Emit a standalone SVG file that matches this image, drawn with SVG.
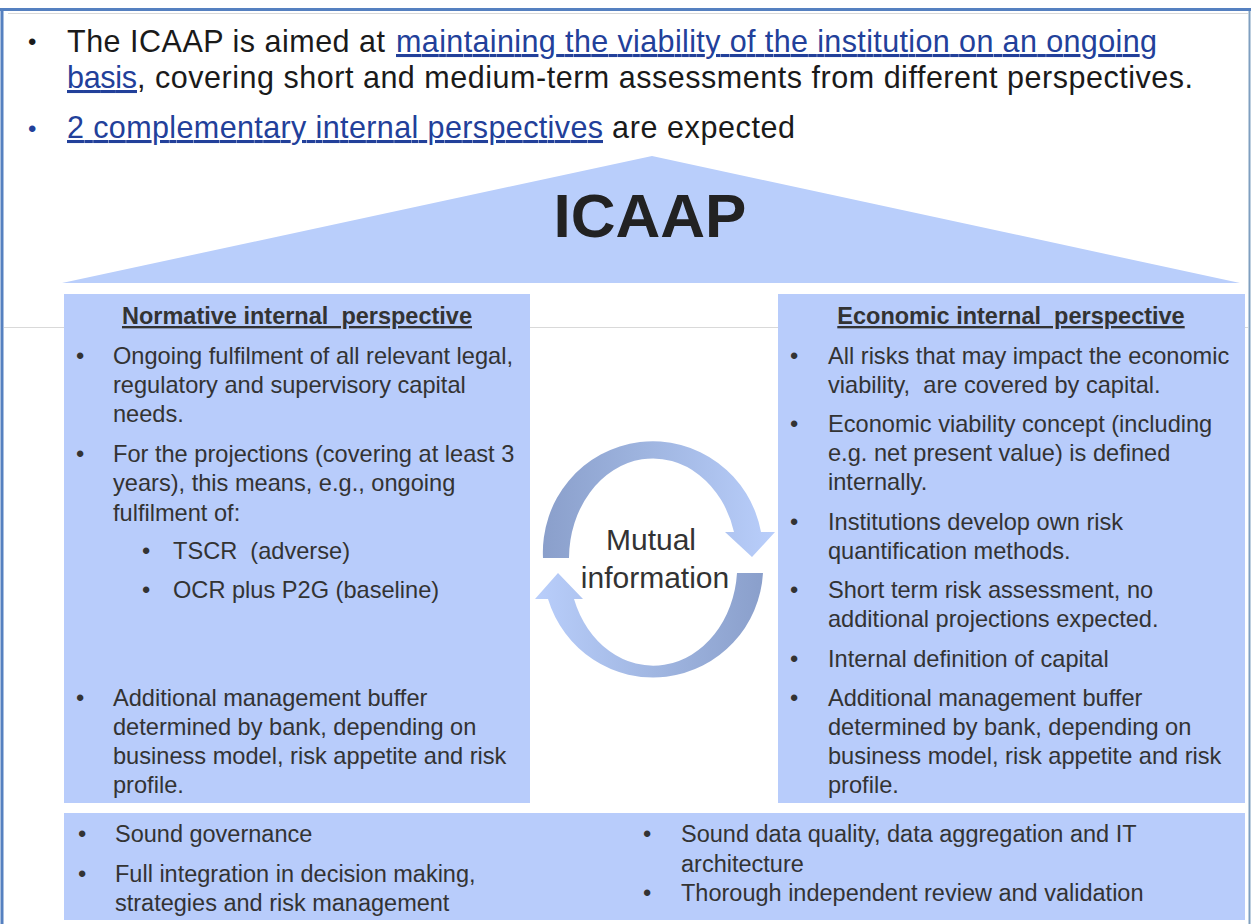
<svg xmlns="http://www.w3.org/2000/svg" width="1251" height="924" viewBox="0 0 1251 924">
<style>
text{font-family:"Liberation Sans",Arial,sans-serif;fill:#333333;white-space:pre}
.top{font-size:30.5px;fill:#1a1a1a}
.bul{font-size:24px;fill:#1a1a1a}
.lnk{fill:#22409a;text-decoration:underline}
.b{font-size:23.6px}
.t{font-size:23.5px;font-weight:bold;text-decoration:underline;text-anchor:middle}
.box{fill:#b8ccfb}
</style>
<defs>
<linearGradient id="gTop" x1="0" y1="0" x2="1" y2="0">
<stop offset="0" stop-color="#8a9fcb"/><stop offset="0.45" stop-color="#9fb5e0"/><stop offset="1" stop-color="#b9cefb"/>
</linearGradient>
<linearGradient id="gBot" x1="1" y1="0" x2="0" y2="0">
<stop offset="0" stop-color="#8a9fcb"/><stop offset="0.45" stop-color="#9fb5e0"/><stop offset="1" stop-color="#b9cefb"/>
</linearGradient>
</defs>
<rect width="1251" height="924" fill="#ffffff"/>
<g id="frame">
<line x1="0" y1="9.5" x2="1251" y2="9.5" stroke="#5580c0" stroke-width="3"/>
<line x1="8" y1="13.5" x2="1248" y2="13.5" stroke="#d8d8d8" stroke-width="1"/>
<line x1="2" y1="8" x2="2" y2="924" stroke="#5580c0" stroke-width="3"/>
<line x1="1249.5" y1="11" x2="1249.5" y2="924" stroke="#7f9fc0" stroke-width="2"/>
<line x1="4" y1="327.5" x2="1248" y2="327.5" stroke="#d9d9d9" stroke-width="1"/>
</g>
<g id="intro">
<text class="bul" x="28" y="50">•</text>
<text class="top" x="67" y="52" textLength="318" lengthAdjust="spacing">The ICAAP is aimed at</text>
<text class="top lnk" x="396" y="52" textLength="761" lengthAdjust="spacing">maintaining the viability of the institution on an ongoing</text>
<text class="top lnk" x="67" y="88" textLength="70" lengthAdjust="spacing">basis</text>
<text class="top" x="137" y="88" textLength="1056" lengthAdjust="spacing">, covering short and medium-term assessments from different perspectives.</text>
<text class="bul" x="28" y="137" style="fill:#22409a">•</text>
<text class="top lnk" x="67" y="138" textLength="536" lengthAdjust="spacing">2 complementary internal perspectives</text>
<text class="top" x="603" y="138" textLength="192" lengthAdjust="spacing"> are expected</text>
</g>
<g id="roof">
<polygon points="652,156 1240,283 62,283" fill="#b9cefb"/>
<text x="650" y="237" text-anchor="middle" style="font-size:62px;font-weight:bold;fill:#222222">ICAAP</text>
</g>
<g id="normative">
<rect class="box" x="64" y="294" width="466" height="509"/>
<text class="t" x="297" y="324">Normative internal  perspective</text>
<text class="b" x="76" y="364">•</text>
<text class="b" x="113" y="364">Ongoing fulfilment of all relevant legal,</text>
<text class="b" x="113" y="393">regulatory and supervisory capital</text>
<text class="b" x="113" y="422">needs.</text>
<text class="b" x="76" y="462">•</text>
<text class="b" x="113" y="462">For the projections (covering at least 3</text>
<text class="b" x="113" y="491">years), this means, e.g., ongoing</text>
<text class="b" x="113" y="521">fulfilment of:</text>
<text class="b" x="142" y="559">•</text>
<text class="b" x="173" y="559">TSCR  (adverse)</text>
<text class="b" x="142" y="598">•</text>
<text class="b" x="173" y="598">OCR plus P2G (baseline)</text>
<text class="b" x="76" y="706">•</text>
<text class="b" x="113" y="706">Additional management buffer</text>
<text class="b" x="113" y="735">determined by bank, depending on</text>
<text class="b" x="113" y="764">business model, risk appetite and risk</text>
<text class="b" x="113" y="793">profile.</text>
</g>
<g id="economic">
<rect class="box" x="778" y="294" width="467" height="509"/>
<text class="t" x="1011" y="324">Economic internal  perspective</text>
<text class="b" x="790" y="364">•</text>
<text class="b" x="828" y="364">All risks that may impact the economic</text>
<text class="b" x="828" y="393">viability,  are covered by capital.</text>
<text class="b" x="790" y="432">•</text>
<text class="b" x="828" y="432">Economic viability concept (including</text>
<text class="b" x="828" y="461">e.g. net present value) is defined</text>
<text class="b" x="828" y="490">internally.</text>
<text class="b" x="790" y="530">•</text>
<text class="b" x="828" y="530">Institutions develop own risk</text>
<text class="b" x="828" y="559">quantification methods.</text>
<text class="b" x="790" y="598">•</text>
<text class="b" x="828" y="598">Short term risk assessment, no</text>
<text class="b" x="828" y="627">additional projections expected.</text>
<text class="b" x="790" y="667">•</text>
<text class="b" x="828" y="667">Internal definition of capital</text>
<text class="b" x="790" y="706">•</text>
<text class="b" x="828" y="706">Additional management buffer</text>
<text class="b" x="828" y="735">determined by bank, depending on</text>
<text class="b" x="828" y="764">business model, risk appetite and risk</text>
<text class="b" x="828" y="793">profile.</text>
</g>
<g id="foundation">
<rect class="box" x="64" y="813" width="1181" height="107"/>
<text class="b" x="78" y="842">•</text>
<text class="b" x="115" y="842" style="font-size:23.5px">Sound governance</text>
<text class="b" x="78" y="882">•</text>
<text class="b" x="115" y="882" style="font-size:23.5px">Full integration in decision making,</text>
<text class="b" x="115" y="911" style="font-size:23.5px">strategies and risk management</text>
<text class="b" x="643" y="842">•</text>
<text class="b" x="681" y="842" style="font-size:23.5px">Sound data quality, data aggregation and IT</text>
<text class="b" x="681" y="872" style="font-size:23.5px">architecture</text>
<text class="b" x="643" y="901">•</text>
<text class="b" x="681" y="901" style="font-size:23.5px">Thorough independent review and validation</text>
</g>
<g id="connectors">
<path d="M543,558 A110,111 0 0 1 761,532 L775,532 L752,557 L725,532 L734,532 A84,100 0 0 0 569,558 Z" fill="url(#gTop)"/>
<path d="M763,573 A110,111 0 0 1 548,599 L535,599 L558,573 L583,599 L574,599 A84,100 0 0 0 737,573 Z" fill="url(#gBot)"/>
</g>
<g id="mutual">
<text x="651" y="550" text-anchor="middle" style="font-size:30px;fill:#333333">Mutual</text>
<text x="655" y="588" text-anchor="middle" style="font-size:30px;fill:#333333">information</text>
</g>
</svg>
